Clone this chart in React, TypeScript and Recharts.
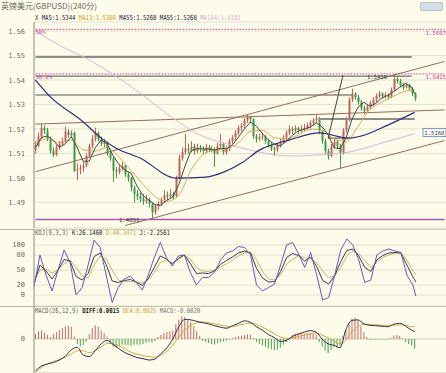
import React from 'react';
import { ComposedChart, Bar, Line, XAxis, YAxis, CartesianGrid, ReferenceLine, ReferenceDot, Cell } from 'recharts';

const title = '英镑美元(GBPUSD)(240分)';
const priceTicks = [1.49, 1.5, 1.51, 1.52, 1.53, 1.54, 1.55, 1.56];
const kdjTicks = [0, 20, 50, 80, 100];
const macdTicks = [0];
const slots = 138; // 128 candles + blank room on the right

// [open, high, low, close]
const candles: [number, number, number, number][] = [
  [1.5115, 1.5150, 1.5100, 1.5130], [1.5130, 1.5185, 1.5125, 1.5170], [1.5170, 1.5220, 1.5160, 1.5205], [1.5205, 1.5215, 1.5180, 1.5195],
  [1.5195, 1.5205, 1.5150, 1.5160], [1.5160, 1.5170, 1.5100, 1.5110], [1.5110, 1.5125, 1.5085, 1.5095], [1.5095, 1.5135, 1.5090, 1.5125],
  [1.5125, 1.5150, 1.5115, 1.5140], [1.5140, 1.5165, 1.5130, 1.5150], [1.5150, 1.5210, 1.5145, 1.5190], [1.5190, 1.5200, 1.5165, 1.5175],
  [1.5175, 1.5195, 1.5165, 1.5185], [1.5185, 1.5190, 1.5025, 1.5030], [1.5030, 1.5060, 1.4990, 1.5035], [1.5035, 1.5055, 1.5015, 1.5040],
  [1.5040, 1.5065, 1.5025, 1.5050], [1.5050, 1.5100, 1.5045, 1.5090], [1.5090, 1.5140, 1.5085, 1.5130], [1.5130, 1.5175, 1.5120, 1.5160],
  [1.5160, 1.5205, 1.5150, 1.5185], [1.5185, 1.5190, 1.5150, 1.5160], [1.5160, 1.5170, 1.5130, 1.5140], [1.5140, 1.5160, 1.5125, 1.5145],
  [1.5145, 1.5150, 1.5090, 1.5100], [1.5100, 1.5110, 1.5070, 1.5080], [1.5080, 1.5085, 1.4985, 1.5030], [1.5030, 1.5045, 1.5000, 1.5025],
  [1.5025, 1.5055, 1.5015, 1.5040], [1.5040, 1.5065, 1.5030, 1.5050], [1.5050, 1.5055, 1.5005, 1.5015], [1.5015, 1.5025, 1.4985, 1.5000],
  [1.5000, 1.5005, 1.4945, 1.4960], [1.4960, 1.4970, 1.4900, 1.4935], [1.4935, 1.4950, 1.4910, 1.4925], [1.4925, 1.4940, 1.4900, 1.4915],
  [1.4915, 1.4935, 1.4890, 1.4905], [1.4905, 1.4930, 1.4895, 1.4912], [1.4912, 1.4920, 1.4880, 1.4895], [1.4895, 1.4900, 1.4831, 1.4860],
  [1.4860, 1.4895, 1.4850, 1.4885], [1.4885, 1.4905, 1.4870, 1.4895], [1.4895, 1.4920, 1.4885, 1.4910], [1.4910, 1.4950, 1.4900, 1.4930],
  [1.4930, 1.4945, 1.4910, 1.4925], [1.4925, 1.4955, 1.4915, 1.4935], [1.4935, 1.4945, 1.4910, 1.4925], [1.4925, 1.5010, 1.4920, 1.5000],
  [1.5000, 1.5095, 1.4995, 1.5080], [1.5080, 1.5125, 1.5070, 1.5105], [1.5105, 1.5180, 1.5095, 1.5120], [1.5120, 1.5140, 1.5100, 1.5115],
  [1.5115, 1.5150, 1.5105, 1.5130], [1.5130, 1.5140, 1.5095, 1.5110], [1.5110, 1.5140, 1.5100, 1.5125], [1.5125, 1.5135, 1.5105, 1.5120],
  [1.5120, 1.5130, 1.5095, 1.5110], [1.5110, 1.5140, 1.5100, 1.5125], [1.5125, 1.5135, 1.5105, 1.5115], [1.5115, 1.5130, 1.5105, 1.5120],
  [1.5120, 1.5125, 1.5045, 1.5100], [1.5100, 1.5145, 1.5095, 1.5130], [1.5130, 1.5180, 1.5120, 1.5140], [1.5140, 1.5145, 1.5095, 1.5105],
  [1.5105, 1.5130, 1.5095, 1.5120], [1.5120, 1.5160, 1.5110, 1.5150], [1.5150, 1.5175, 1.5140, 1.5165], [1.5165, 1.5195, 1.5155, 1.5185],
  [1.5185, 1.5215, 1.5175, 1.5205], [1.5205, 1.5225, 1.5190, 1.5215], [1.5215, 1.5245, 1.5205, 1.5235], [1.5235, 1.5258, 1.5225, 1.5250],
  [1.5250, 1.5255, 1.5225, 1.5240], [1.5240, 1.5245, 1.5160, 1.5170], [1.5170, 1.5180, 1.5145, 1.5160], [1.5160, 1.5180, 1.5150, 1.5165],
  [1.5165, 1.5185, 1.5155, 1.5170], [1.5170, 1.5175, 1.5140, 1.5150], [1.5150, 1.5160, 1.5125, 1.5135], [1.5135, 1.5145, 1.5110, 1.5120],
  [1.5120, 1.5130, 1.5090, 1.5115], [1.5115, 1.5145, 1.5105, 1.5135], [1.5135, 1.5160, 1.5125, 1.5150], [1.5150, 1.5175, 1.5140, 1.5165],
  [1.5165, 1.5195, 1.5155, 1.5185], [1.5185, 1.5215, 1.5175, 1.5200], [1.5200, 1.5210, 1.5180, 1.5195], [1.5195, 1.5215, 1.5185, 1.5205],
  [1.5205, 1.5210, 1.5180, 1.5195], [1.5195, 1.5215, 1.5185, 1.5200], [1.5200, 1.5220, 1.5190, 1.5205], [1.5205, 1.5225, 1.5195, 1.5215],
  [1.5215, 1.5235, 1.5205, 1.5225], [1.5225, 1.5245, 1.5215, 1.5235], [1.5235, 1.5262, 1.5225, 1.5245], [1.5245, 1.5250, 1.5180, 1.5190],
  [1.5190, 1.5195, 1.5140, 1.5150], [1.5150, 1.5160, 1.5100, 1.5110], [1.5110, 1.5120, 1.5075, 1.5090], [1.5090, 1.5140, 1.5085, 1.5130],
  [1.5130, 1.5160, 1.5120, 1.5150], [1.5150, 1.5155, 1.5120, 1.5130], [1.5130, 1.5140, 1.5040, 1.5100], [1.5100, 1.5205, 1.5095, 1.5195],
  [1.5195, 1.5250, 1.5185, 1.5240], [1.5240, 1.5330, 1.5230, 1.5320], [1.5320, 1.5365, 1.5310, 1.5345], [1.5345, 1.5350, 1.5320, 1.5330],
  [1.5330, 1.5340, 1.5300, 1.5310], [1.5310, 1.5320, 1.5275, 1.5285], [1.5285, 1.5295, 1.5260, 1.5275], [1.5275, 1.5300, 1.5270, 1.5290],
  [1.5290, 1.5315, 1.5280, 1.5305], [1.5305, 1.5330, 1.5295, 1.5320], [1.5320, 1.5345, 1.5310, 1.5335], [1.5335, 1.5355, 1.5325, 1.5345],
  [1.5345, 1.5350, 1.5325, 1.5335], [1.5335, 1.5350, 1.5325, 1.5340], [1.5340, 1.5345, 1.5320, 1.5330], [1.5330, 1.5370, 1.5325, 1.5360],
  [1.5360, 1.5425, 1.5355, 1.5405], [1.5405, 1.5415, 1.5385, 1.5395], [1.5395, 1.5405, 1.5370, 1.5380], [1.5380, 1.5390, 1.5360, 1.5370],
  [1.5370, 1.5390, 1.5365, 1.5380], [1.5380, 1.5385, 1.5355, 1.5365], [1.5365, 1.5370, 1.5335, 1.5345], [1.5345, 1.5350, 1.5315, 1.5325],
];

// moving averages (at the listed candle indices)
const ma13At = [0, 4, 8, 12, 16, 20, 24, 28, 32, 36, 40, 44, 48, 52, 56, 60, 64, 68, 72, 76, 80, 84, 88, 92, 96, 100, 104, 108, 112, 116, 120, 124, 127];
const ma13 = [1.5140, 1.5160, 1.5145, 1.5155, 1.5115, 1.5110, 1.5125, 1.5085, 1.5030, 1.4975, 1.4925, 1.4905, 1.4930, 1.5030, 1.5095, 1.5115,
  1.5118, 1.5145, 1.5190, 1.5195, 1.5165, 1.5160, 1.5175, 1.5200, 1.5195, 1.5160, 1.5150, 1.5210, 1.5280, 1.5310, 1.5335, 1.5355, 1.5360];
const ma55At = [0, 5, 16, 22, 27, 35, 47, 57, 63, 69, 75, 85, 95, 105, 109, 118, 127];
const ma55 = [1.5400, 1.5331, 1.5229, 1.5163, 1.5122, 1.5082, 1.5000, 1.5004, 1.5024, 1.5061, 1.5114, 1.5155, 1.5184, 1.5163, 1.5171, 1.5216, 1.5268];
const ma144At = [0, 8, 18, 35, 46, 55, 63, 72, 85, 95, 105, 116, 127];
const ma144 = [1.5600, 1.5542, 1.5482, 1.5347, 1.5245, 1.5176, 1.5143, 1.5114, 1.5090, 1.5094, 1.5106, 1.5143, 1.5181];

// indicator samples: every second candle, plus the last one
const ma5 = [1.5125, 1.5165, 1.5172, 1.5153, 1.5126, 1.5140, 1.5169, 1.5123, 1.5068, 1.5069, 1.5123, 1.5155, 1.5138, 1.5091, 1.5055, 1.5032,
  1.5020, 1.4967, 1.4928, 1.4910, 1.4891, 1.4889, 1.4909, 1.4923, 1.4973, 1.5046, 1.5110, 1.5120, 1.5119, 1.5118, 1.5114, 1.5122,
  1.5119, 1.5136, 1.5167, 1.5201, 1.5229, 1.5211, 1.5181, 1.5156, 1.5138, 1.5131, 1.5150, 1.5174, 1.5192, 1.5200, 1.5208, 1.5225,
  1.5209, 1.5178, 1.5124, 1.5120, 1.5163, 1.5240, 1.5289, 1.5309, 1.5293, 1.5305, 1.5327, 1.5337, 1.5353, 1.5371, 1.5386, 1.5371, 1.5344];
const kdjK = [24, 60, 48, 32, 50, 71, 68, 37, 30, 43, 77, 84, 61, 28, 25, 29, 31, 26, 19, 33, 55, 78, 72, 62, 73, 80, 63, 43, 44, 43, 48, 61,
  69, 76, 84, 88, 84, 53, 34, 26, 27, 47, 75, 83, 79, 68, 76, 57, 29, 22, 39, 67, 89, 92, 78, 55, 47, 70, 79, 84, 85, 84, 60, 36, 26.146];
const kdjD = [27, 50, 52, 44, 50, 62, 70, 55, 38, 34, 60, 78, 72, 50, 30, 27, 27, 26, 24, 30, 45, 65, 70, 64, 70, 80, 72, 55, 48, 47, 50, 56,
  62, 70, 78, 84, 86, 70, 47, 32, 30, 40, 62, 72, 78, 75, 72, 65, 48, 35, 38, 55, 78, 88, 82, 70, 55, 65, 75, 80, 84, 84, 70, 48, 40.347];
const kdjJ = [17, 80, 40, 8, 50, 90, 65, 0, 15, 60, 110, 95, 40, -15, 15, 32, 38, 25, 10, 40, 75, 105, 75, 58, 78, 80, 45, 20, 35, 35, 45, 70,
  84, 88, 97, 95, 80, 20, 8, 15, 22, 60, 100, 105, 82, 55, 85, 40, -10, -5, 40, 90, 112, 100, 70, 25, 30, 80, 88, 92, 88, 85, 40, 20, -2.256];
const diff = [-0.0065, -0.0055, -0.0051, -0.0048, -0.0043, -0.0035, -0.0022, -0.0017, -0.0033, -0.0036, -0.0024, -0.0010, -0.0003, -0.0011,
  -0.0020, -0.0028, -0.0033, -0.0038, -0.0040, -0.0043, -0.0041, -0.0030, -0.0018, 0.0000, 0.0025, 0.0040, 0.0039, 0.0036, 0.0033, 0.0031,
  0.0027, 0.0024, 0.0022, 0.0027, 0.0032, 0.0037, 0.0034, 0.0025, 0.0018, 0.0009, 0.0003, -0.0005, -0.0003, 0.0005, 0.0010, 0.0014, 0.0017,
  0.0014, 0.0000, -0.0010, -0.0013, -0.0018, 0.0020, 0.0038, 0.0039, 0.0031, 0.0028, 0.0027, 0.0026, 0.0025, 0.0030, 0.0032, 0.0026, 0.0018, 0.0015];
const dea = [-0.0068, -0.0058, -0.0051, -0.0046, -0.0042, -0.0037, -0.0031, -0.0024, -0.0024, -0.0028, -0.0024, -0.0016, -0.0009, -0.0010,
  -0.0014, -0.0020, -0.0027, -0.0031, -0.0034, -0.0036, -0.0037, -0.0033, -0.0025, -0.0012, 0.0004, 0.0018, 0.0028, 0.0033, 0.0035, 0.0033,
  0.0031, 0.0028, 0.0026, 0.0025, 0.0028, 0.0031, 0.0032, 0.0030, 0.0024, 0.0018, 0.0011, 0.0004, 0.0001, 0.0002, 0.0005, 0.0008, 0.0011,
  0.0012, 0.0008, 0.0002, -0.0004, -0.0010, -0.0002, 0.0015, 0.0026, 0.0030, 0.0029, 0.0029, 0.0028, 0.0028, 0.0028, 0.0029, 0.0028, 0.0025, 0.0025];
// MACD histogram, one per candle
const macdHist = [0.0010, 0.0016, 0.0018, 0.0013, 0.0008, 0.0004, 0.0010, 0.0014, 0.0018, 0.0022, 0.0026, 0.0027, 0.0025, 0.0005, -0.0010, -0.0015,
  -0.0013, -0.0006, 0.0010, 0.0022, 0.0028, 0.0025, 0.0018, 0.0012, 0.0005, -0.0008, -0.0016, -0.0018, -0.0015, -0.0012, -0.0012, -0.0013,
  -0.0014, -0.0012, -0.0011, -0.0012, -0.0010, -0.0008, -0.0006, -0.0007, -0.0004, 0.0004, 0.0008, 0.0012, 0.0014, 0.0016, 0.0018, 0.0030,
  0.0040, 0.0046, 0.0045, 0.0040, 0.0034, 0.0026, 0.0016, 0.0006, -0.0004, -0.0006, -0.0008, -0.0010, -0.0011, -0.0008, -0.0006, -0.0005,
  -0.0003, -0.0002, 0.0002, 0.0004, 0.0006, 0.0007, 0.0008, 0.0009, 0.0008, 0.0002, -0.0006, -0.0010, -0.0013, -0.0016, -0.0019, -0.0021,
  -0.0023, -0.0022, -0.0018, -0.0012, -0.0006, 0.0002, 0.0008, 0.0011, 0.0012, 0.0012, 0.0011, 0.0012, 0.0011, 0.0010, 0.0008, -0.0006,
  -0.0016, -0.0024, -0.0029, -0.0022, -0.0016, -0.0018, -0.0014, 0.0006, 0.0018, 0.0032, 0.0042, 0.0044, 0.0038, 0.0026, 0.0014, 0.0004,
  -0.0002, -0.0001, -0.0002, -0.0001, -0.0002, -0.0001, -0.0002, 0.0002, 0.0007, 0.0008, 0.0006, 0.0002, -0.0006, -0.0010, -0.0014, -0.0020];

// drawn lines: [fromIndex, fromPrice, toIndex, toPrice]
const drawings: Record<string, [number, number, number, number]> = {
  fib50: [0, 1.5607, 137, 1.5607],
  resistTop: [0, 1.5494, 126, 1.5494],
  fib382: [0, 1.5425, 137, 1.5425],
  peakLine: [0, 1.5416, 126, 1.5416],
  midLine: [0, 1.5339, 106, 1.5339],
  flat: [0, 1.5220, 137, 1.5278],
  channelTop: [0, 1.5026, 137, 1.5476],
  channelLow: [30, 1.4806, 137, 1.5153],
  lowLine: [0, 1.4831, 137, 1.4831],
  support: [95, 1.5241, 127, 1.5241],
  spike: [103, 1.5420, 98, 1.5163],
  spikeBase: [98, 1.5163, 106, 1.5163],
};

const UP = '#c4625a';
const DOWN = '#3f9a45';
const BG = '#fdfcea';
const GRID = '#e3e0cb';
const FIB = '#c8409a';

type Row = Record<string, any>;
const rows: Row[] = Array.from({ length: slots }, (_, i) => ({ i }));
candles.forEach(([o, h, l, c], i) => Object.assign(rows[i], { o, h, l, c, range: [l, h], hist: macdHist[i] }));
kdjK.forEach((_, n) => {
  const idx = n < 64 ? n * 2 : 127;
  Object.assign(rows[idx], { ma5: ma5[n], k: kdjK[n], d: kdjD[n], j: kdjJ[n], diff: diff[n], dea: dea[n] });
});
ma13At.forEach((idx, n) => (rows[idx].ma13 = ma13[n]));
ma55At.forEach((idx, n) => (rows[idx].ma55 = ma55[n]));
ma144At.forEach((idx, n) => (rows[idx].ma144 = ma144[n]));

const Candle = (props: any) => {
  const { x, y, width, height, payload } = props;
  if (!payload || payload.o == null) return null;
  const { o, h, l, c } = payload;
  const top = Math.min(y, y + height);
  const span = Math.abs(height);
  const k = h === l ? 0 : span / (h - l);
  const yO = top + (h - o) * k;
  const yC = top + (h - c) * k;
  const color = c >= o ? UP : DOWN;
  const cx = Math.round(x + width / 2) + 0.5;
  return (
    <g>
      <line x1={cx} x2={cx} y1={top} y2={top + span} stroke={color} strokeWidth={1} />
      <rect x={cx - 1} y={Math.min(yO, yC)} width={2} height={Math.max(1, Math.abs(yC - yO))} fill={color} />
    </g>
  );
};

const tick = { fontSize: 7, fill: '#6a6a6a', fontFamily: 'DejaVu Sans Mono' };
const mono: React.CSSProperties = {
  position: 'absolute', fontFamily: 'DejaVu Sans Mono', fontSize: 7, lineHeight: '8px', whiteSpace: 'nowrap',
  transform: 'scaleX(0.8)', transformOrigin: 'left top', color: '#555',
};

function seg(name: string, stroke: string, width = 1, dash?: string) {
  const [x1, y1, x2, y2] = drawings[name];
  return (
    <ReferenceLine key={name} segment={[{ x: x1, y: y1 }, { x: x2, y: y2 }]} stroke={stroke}
      strokeWidth={width} strokeDasharray={dash} ifOverflow="visible" />
  );
}

function tag(key: string, idx: number, price: number, text: string, color: string, anchor: 'start' | 'end', dy: number) {
  return (
    <ReferenceDot key={key} x={idx} y={price} r={0} ifOverflow="visible"
      shape={(p: any) => (
        <text x={anchor === 'end' ? p.cx + 1.5 : p.cx} y={p.cy + dy} textAnchor={anchor} fontSize={5.6}
          fontFamily="DejaVu Sans Mono" fill={color}>{text}</text>
      )} />
  );
}

export default function App() {
  return (
    <div style={{ position: 'absolute', left: 0, top: 0, width: 446, height: 373, background: BG, overflow: 'hidden' }}>
      <style>{'body{margin:0}'}</style>
      <div style={{ position: 'absolute', left: 1, top: 1, fontSize: 8, lineHeight: '10px', color: '#666', fontFamily: '"Noto Sans CJK SC"' }}>{title}</div>
      <div style={{ position: 'absolute', left: 420, top: 2, width: 23, height: 9, borderRadius: 2, background: '#d6dde6', border: '1px solid #b4bfcc', boxSizing: 'border-box' }} />
      <div style={{ ...mono, left: 35, top: 14 }}>
        <span style={{ color: '#333' }}>X </span>
        <span style={{ color: '#202040' }}>MA5:1.5344 </span>
        <span style={{ color: '#d39a2a' }}>MA13:1.5360 </span>
        <span style={{ color: '#202040' }}>MA55:1.5268 MA55:1.5268 </span>
        <span style={{ color: '#d8a8dc' }}>MA144:1.5181</span>
      </div>

      <div style={{ position: 'absolute', left: 0, top: 0 }}>
        <ComposedChart width={446} height={229} data={rows} margin={{ top: 22, right: 0, bottom: 1, left: 0 }}>
          <CartesianGrid vertical={false} stroke={GRID} />
          <XAxis dataKey="i" hide />
          <YAxis type="number" domain={[1.4796, 1.5637]} ticks={priceTicks} interval={0} allowDataOverflow width={34}
            axisLine={{ stroke: '#8a8a8a' }} tickLine={false} tickMargin={3} tick={tick}
            tickFormatter={(v: number) => v.toFixed(2)} />
          {seg('fib50', FIB, 1, '1.5 1.5')}
          {seg('resistTop', '#8c8c8c', 2)}
          {seg('fib382', FIB, 1, '1.5 1.5')}
          {seg('peakLine', '#505050', 1)}
          {seg('midLine', '#505050', 1)}
          {seg('flat', '#9a6a5c', 1)}
          {seg('channelTop', '#9a6a5c', 1)}
          {seg('channelLow', '#9a6a5c', 1)}
          {seg('lowLine', '#a858a8', 1.5)}
          {seg('support', '#8c8c8c', 2)}
          {seg('spike', '#404040', 1)}
          {seg('spikeBase', '#404040', 1)}
          <Line dataKey="ma144" type="monotone" stroke="#d6b4de" strokeWidth={1} dot={false} connectNulls isAnimationActive={false} />
          <Line dataKey="ma55" type="monotone" stroke="#2c2c7a" strokeWidth={1.2} dot={false} connectNulls isAnimationActive={false} />
          <Line dataKey="ma13" type="monotone" stroke="#d8aa58" strokeWidth={1} dot={false} connectNulls isAnimationActive={false} />
          <Bar dataKey="range" shape={Candle} barSize={3} isAnimationActive={false} />
          <Line dataKey="ma5" type="linear" stroke="#3c4a44" strokeWidth={1} dot={false} connectNulls isAnimationActive={false} />
          {tag('t50', 0, 1.5607, '50%', FIB, 'start', 5)}
          {tag('t50r', 137, 1.5607, '1.5607', FIB, 'end', 5.5)}
          {tag('t382', 0, 1.5425, '38.2%', FIB, 'start', 5.5)}
          {tag('t382r', 137, 1.5425, '1.5425', FIB, 'end', 5)}
          {tag('tpeak', 111, 1.5418, '1.5418', '#444', 'start', 3.5)}
          {tag('tlow', 28, 1.4831, '1.4831', '#333', 'start', 2.5)}
          <ReferenceDot x={137} y={1.5186} r={0} ifOverflow="visible"
            shape={(p: any) => (
              <g>
                <rect x={p.cx - 21.5} y={p.cy - 4} width={23} height={8} fill="#fff" stroke="#7a98c8" strokeWidth={1} />
                <text x={p.cx} y={p.cy + 2.3} textAnchor="end" fontSize={5.6} fontFamily="DejaVu Sans Mono" fill="#333">1.5168</text>
              </g>
            )} />
        </ComposedChart>
      </div>

      <div style={{ position: 'absolute', left: 0, top: 228.5, width: 446, height: 1, background: '#b8b6a6' }} />
      <div style={{ position: 'absolute', left: 0, top: 229 }}>
        <ComposedChart width={446} height={77} data={rows} margin={{ top: 0, right: 0, bottom: 0, left: 0 }}>
          <CartesianGrid vertical={false} stroke={GRID} />
          <XAxis dataKey="i" hide />
          <YAxis type="number" domain={[-22, 132]} ticks={kdjTicks} interval={0} allowDataOverflow width={34}
            axisLine={{ stroke: '#8a8a8a' }} tickLine={false} tickMargin={3} tick={tick} />
          <Line dataKey="d" type="linear" stroke="#cdb466" strokeWidth={1} dot={false} connectNulls isAnimationActive={false} />
          <Line dataKey="k" type="linear" stroke="#3a3a5a" strokeWidth={1} dot={false} connectNulls isAnimationActive={false} />
          <Line dataKey="j" type="linear" stroke="#6a56bc" strokeWidth={1} dot={false} connectNulls isAnimationActive={false} />
        </ComposedChart>
      </div>
      <div style={{ ...mono, left: 35, top: 229 }}>
        <span style={{ color: '#666' }}>KDJ(9,3,3) </span>
        <span style={{ color: '#222' }}>K:26.1460 </span>
        <span style={{ color: '#c8a850' }}>D:40.3471 </span>
        <span style={{ color: '#222' }}>J:-2.2561</span>
      </div>

      <div style={{ position: 'absolute', left: 0, top: 305.5, width: 446, height: 1, background: '#b8b6a6' }} />
      <div style={{ position: 'absolute', left: 0, top: 306 }}>
        <ComposedChart width={446} height={67} data={rows} margin={{ top: 0, right: 0, bottom: 0, left: 0 }}>
          <CartesianGrid vertical={false} stroke="#cfcdbb" />
          <XAxis dataKey="i" hide />
          <YAxis type="number" domain={[-0.00694, 0.00673]} ticks={macdTicks} interval={0} allowDataOverflow width={34}
            axisLine={{ stroke: '#8a8a8a' }} tickLine={false} tickMargin={3} tick={tick} />
          <Bar dataKey="hist" barSize={1} isAnimationActive={false}>
            {rows.map((r) => (
              <Cell key={r.i} fill={(r.hist ?? 0) >= 0 ? '#c46a62' : '#4aa04a'} />
            ))}
          </Bar>
          <Line dataKey="dea" type="monotone" stroke="#d4a440" strokeWidth={1} dot={false} connectNulls isAnimationActive={false} />
          <Line dataKey="diff" type="monotone" stroke="#2e2e50" strokeWidth={1} dot={false} connectNulls isAnimationActive={false} />
        </ComposedChart>
      </div>
      <div style={{ ...mono, left: 35, top: 307 }}>
        <span style={{ color: '#666' }}>MACD(26,12,9) </span>
        <span style={{ color: '#222', fontWeight: 'bold' }}>DIFF:0.0015 </span>
        <span style={{ color: '#d4a440' }}>DEA:0.0025 </span>
        <span style={{ color: '#777' }}>MACD:-0.0020</span>
      </div>
    </div>
  );
}
